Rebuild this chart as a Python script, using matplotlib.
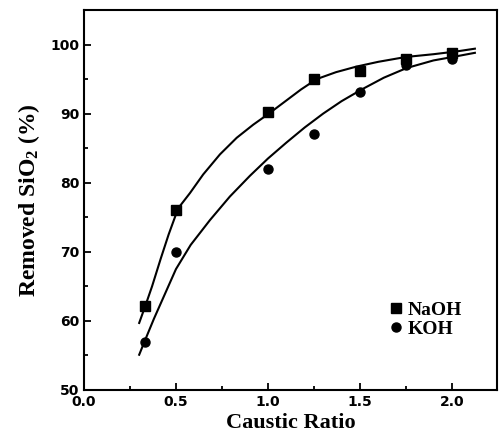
import numpy as np
import matplotlib
matplotlib.use("Agg")
import matplotlib.pyplot as plt
from matplotlib.ticker import MultipleLocator

plt.rcParams["mathtext.fontset"] = "custom"
plt.rcParams["mathtext.rm"] = "Liberation Serif:bold"
plt.rcParams["mathtext.default"] = "rm"

# measured points
ratio = [0.33, 0.5, 1.0, 1.25, 1.5, 1.75, 2.0]
naoh = [62.1, 76.0, 90.2, 95.0, 96.1, 97.9, 98.8]
koh = [57.0, 70.0, 82.0, 87.0, 93.2, 97.1, 97.9]

# fitted curves
naoh_fit_x = [0.30, 0.335, 0.37, 0.417, 0.46, 0.512, 0.576, 0.648, 0.739, 0.83, 0.92, 1.01,
              1.1, 1.18, 1.265, 1.37, 1.48, 1.6, 1.75, 1.9, 2.025, 2.125]
naoh_fit_y = [59.7, 62.3, 65.0, 69.0, 72.5, 76.3, 78.5, 81.2, 84.1, 86.5, 88.4, 90.1,
              91.9, 93.5, 95.0, 96.0, 96.8, 97.5, 98.2, 98.6, 99.0, 99.4]
koh_fit_x = [0.30, 0.335, 0.38, 0.43, 0.5, 0.58, 0.685, 0.793, 0.902, 1.0, 1.1, 1.2,
             1.3, 1.4, 1.51, 1.63, 1.754, 1.9, 2.025, 2.125]
koh_fit_y = [55.1, 57.4, 60.3, 63.3, 67.5, 71.0, 74.6, 78.0, 81.0, 83.5, 85.8, 88.0,
             90.0, 91.8, 93.5, 95.2, 96.6, 97.7, 98.3, 98.8]

xticks = [0.0, 0.5, 1.0, 1.5, 2.0]
yticks = [50, 60, 70, 80, 90, 100]

tick_font = {"family": "DejaVu Sans", "weight": "bold", "size": 10}

fig = plt.figure(figsize=(5.03, 4.46), dpi=100)
ax = fig.add_axes([0.167, 0.1256, 0.821, 0.852])

ax.plot(naoh_fit_x, naoh_fit_y, color="black", lw=1.5)
ax.plot(koh_fit_x, koh_fit_y, color="black", lw=1.5)
ax.plot(ratio, naoh, "s", color="black", ms=6.5, label="NaOH")
ax.plot(ratio, koh, "o", color="black", ms=6.5, label="KOH")

ax.set_xlim(0, 2.245)
ax.set_ylim(50, 105)
ax.set_xticks(xticks)
ax.set_xticklabels(["%.1f" % v for v in xticks], fontdict=tick_font)
ax.set_yticks(yticks)
ax.set_yticklabels([str(v) for v in yticks], fontdict=tick_font)
ax.xaxis.set_minor_locator(MultipleLocator(0.25))
ax.yaxis.set_minor_locator(MultipleLocator(5))
ax.tick_params(which="both", direction="in", width=1.3, top=False, right=False)
ax.tick_params(which="major", length=5)
ax.tick_params(which="minor", length=3)

for sp in ax.spines.values():
    sp.set_linewidth(1.5)

ax.set_xlabel("Caustic Ratio", family="Liberation Serif", weight="bold", size=16, labelpad=3)
ax.set_ylabel("Removed SiO$_2$ (%)", family="Liberation Serif", weight="bold", size=17, labelpad=6)

ax.legend(loc="upper left", bbox_to_anchor=(0.69, 0.28), frameon=False,
          prop={"family": "Liberation Serif", "weight": "bold", "size": 14},
          handletextpad=0.1, handlelength=1.0, labelspacing=0.1)

fig.savefig("out.png", dpi=100)
